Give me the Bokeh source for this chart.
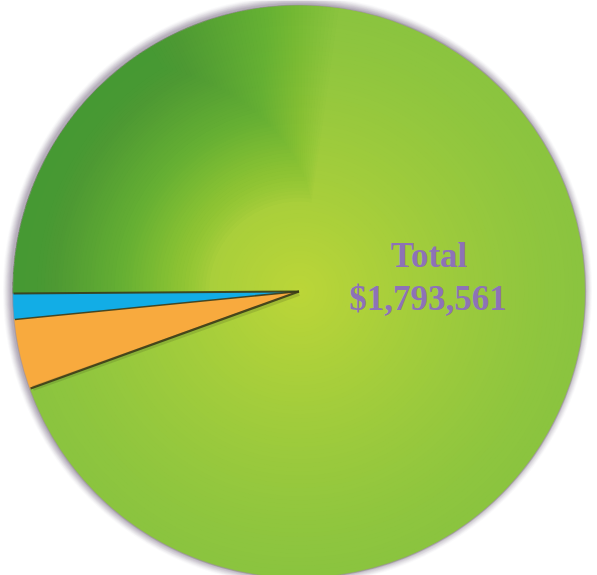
import numpy as np
from bokeh.plotting import figure
from bokeh.models import Range1d
from bokeh.embed import file_html
from bokeh.resources import INLINE
from bokeh.core.properties import value

# ---- data ----
categories = ["Blue segment", "Orange segment", "Green segment"]
values = [26000, 71000, 1696561]
colors = ["#12ade6", "#f8aa3e", "#8cc43f"]
label_lines = ["Total", "$1,793,561"]

W, H = 597, 575
p = figure(width=W, height=H, x_range=Range1d(0, W), y_range=Range1d(0, H),
           output_backend="svg", toolbar_location=None, min_border=0)
p.axis.visible = False
p.grid.visible = False
p.outline_line_color = None
p.background_fill_color = "white"
p.border_fill_color = "white"

cx, cy, R = 298.5, 284.0, 286.5
start0 = np.deg2rad(180.4)
frac = np.array(values, dtype=float) / sum(values)
edges = start0 + np.concatenate([[0.0], np.cumsum(frac)]) * 2 * np.pi
starts, ends = edges[:-1], edges[1:]

# soft rim shadow (slightly towards the upper-left)
for k in range(9, 0, -1):
    p.circle(x=[cx - 1.5], y=[cy + 1.0], radius=R + k * 0.9, fill_color="#7d6f86",
             fill_alpha=0.035 + 0.012 * (9 - k), line_color=None)

# green slice with radial gradient (styling layers)
gi = 2
def mix(c1, c2, t):
    a = [int(c1[i:i + 2], 16) for i in (1, 3, 5)]
    b = [int(c2[i:i + 2], 16) for i in (1, 3, 5)]
    return "#%02x%02x%02x" % tuple(int(round(a[j] + (b[j] - a[j]) * t)) for j in range(3))

N = 70
for i in range(N):
    r = R * (1 - i / N)
    t = (1 - r / R) ** 1.3
    p.wedge(x=[cx], y=[cy], radius=r, start_angle=starts[gi], end_angle=ends[gi],
            fill_color=mix("#8bc43f", "#bcd638", t), line_color=None)

# darker shading on upper-left (many faint nested layers for smoothness)
K = 50
for i in range(K):
    rin = 90 + 3.5 * i
    up = np.deg2rad(82 + 0.8 * i)
    p.annular_wedge(x=[cx], y=[cy], inner_radius=rin, outer_radius=R,
                    start_angle=up, end_angle=ends[gi],
                    fill_color="#3a923f", fill_alpha=0.019, line_color=None)

# blue & orange slices
for i in range(2):
    p.wedge(x=[cx], y=[cy], radius=R, start_angle=starts[i], end_angle=ends[i],
            fill_color=colors[i], line_color=None)

# shadow lines along slice edges
p.ray(x=[cx], y=[cy - 2], length=R - 4, angle=ends[1] - 0.004, line_color="#3b4a1c",
      line_width=5, line_alpha=0.18)
for ang, lw in [(starts[0], 2.0), (ends[0], 1.6), (ends[1], 2.2)]:
    p.ray(x=[cx], y=[cy], length=R - 1, angle=ang, line_color="#3a3c18",
          line_width=lw, line_alpha=0.9)

# rim line
p.circle(x=[cx], y=[cy], radius=R, fill_color=None, line_color="#9b8f9e",
         line_width=1.2, line_alpha=0.6)

# total label
p.text(x=[cx + 130, cx + 129], y=[cy + 36, cy - 7], text=label_lines,
       text_font=value("Liberation Serif"), text_font_style="bold",
       text_font_size="35px", text_color="#8d72b7",
       text_align="center", text_baseline="middle")

open("out.html", "w").write(file_html(p, INLINE))
